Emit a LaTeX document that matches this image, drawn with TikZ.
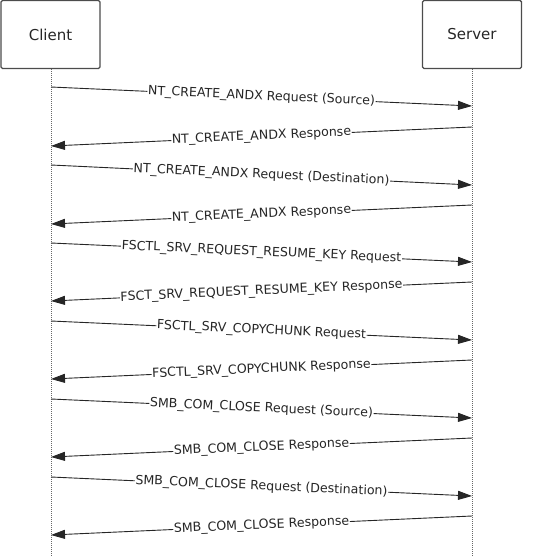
\documentclass[tikz,border=0pt]{standalone}
\usepackage{fontspec}
\setmainfont{DejaVu Sans}
\usetikzlibrary{arrows.meta}
\begin{document}
\begin{tikzpicture}[x=1pt,y=-1pt,
  actor/.style={draw=black!70,line width=1.4pt,rounded corners=1.5pt,minimum width=99pt,minimum height=68pt,inner sep=0pt,font=\fontsize{15}{18}\selectfont,text=black!85},
  life/.style={draw=black!60,line width=0.9pt,dash pattern=on 1pt off 1pt},
  msg/.style={draw=black!85,line width=0.9pt,-{Triangle[length=14pt,width=9pt]}},
  lbl/.style={midway,sloped,fill=white,inner sep=0.6pt,font=\fontsize{12.6}{15}\selectfont,text=black!85}]
\useasboundingbox (0,0) rectangle (533,556);
\node[actor] (client) at (50.5,34.5) {Client};
\node[actor] (server) at (472,34.5) {Server};
\coordinate (cb) at (51,556);
\coordinate (sb) at (472,556);
\draw[life] (client.south -| cb) -- (cb);
\draw[life] (server.south -| sb) -- (sb);
% message endpoints
\foreach \i/\ya/\yb in {1/87/106,2/127/146,3/165/185,4/205/224,5/243/262,6/282/301,7/321/340,8/360/379,9/399/418,10/438/457,11/477/496,12/516/535}{
  \coordinate (c\i a) at (51,\ya);
  \coordinate (s\i a) at (472,\ya);
  \coordinate (c\i b) at (51,\yb);
  \coordinate (s\i b) at (472,\yb);
}
\draw[msg] (c1a) -- node[lbl] {NT\_CREATE\_ANDX Request (Source)} (s1b);
\draw[msg] (s2a) -- node[lbl] {NT\_CREATE\_ANDX Response} (c2b);
\draw[msg] (c3a) -- node[lbl] {NT\_CREATE\_ANDX Request (Destination)} (s3b);
\draw[msg] (s4a) -- node[lbl] {NT\_CREATE\_ANDX Response} (c4b);
\draw[msg] (c5a) -- node[lbl] {FSCTL\_SRV\_REQUEST\_RESUME\_KEY Request} (s5b);
\draw[msg] (s6a) -- node[lbl] {FSCT\_SRV\_REQUEST\_RESUME\_KEY Response} (c6b);
\draw[msg] (c7a) -- node[lbl] {FSCTL\_SRV\_COPYCHUNK Request} (s7b);
\draw[msg] (s8a) -- node[lbl] {FSCTL\_SRV\_COPYCHUNK Response} (c8b);
\draw[msg] (c9a) -- node[lbl] {SMB\_COM\_CLOSE Request (Source)} (s9b);
\draw[msg] (s10a) -- node[lbl] {SMB\_COM\_CLOSE Response} (c10b);
\draw[msg] (c11a) -- node[lbl] {SMB\_COM\_CLOSE Request (Destination)} (s11b);
\draw[msg] (s12a) -- node[lbl] {SMB\_COM\_CLOSE Response} (c12b);
\end{tikzpicture}
\end{document}
